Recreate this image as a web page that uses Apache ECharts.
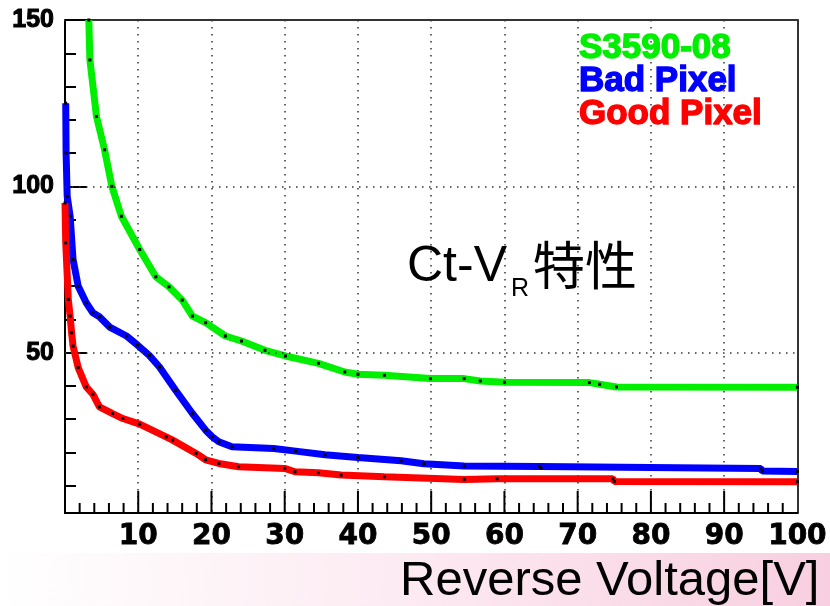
<!DOCTYPE html>
<html>
<head>
<meta charset="utf-8">
<script src="https://cdn.jsdelivr.net/npm/echarts@6/dist/echarts.min.js"></script>
<style>
html, body { margin: 0; padding: 0; background: #ffffff; }
#chart { width: 830px; height: 606px; }
</style>
</head>
<body>
<div id="chart"></div>
<script>
// Terminal capacitance vs. reverse voltage
const seriesNames = ['S3590-08', 'Bad Pixel', 'Good Pixel'];
const seriesColors = ['#00ee00', '#0000ff', '#ff0000'];

const greenVoltage = [3.25, 3.4, 4.3, 5.4, 6.4, 7.7, 10.2, 12.4, 14.2, 16.0, 17.4, 19.2, 21.9, 24.1, 27.3, 30.1, 34.6, 38.2, 40.0, 43.6, 49.9, 54.5, 56.7, 60.0, 71.6, 73.0, 75.3, 100];
const greenCap     = [150, 138, 121, 111, 100, 91, 81, 72.8, 69.8, 65.8, 61, 59, 55, 53.5, 50.7, 49, 46.8, 44.2, 43.5, 43.2, 42.2, 42.2, 41.5, 41.1, 41, 40.5, 39.7, 39.6];

const blueVoltage = [0.1, 0.15, 0.3, 0.7, 1.1, 1.8, 2.9, 3.8, 4.7, 6.1, 8.4, 9.9, 11.5, 12.9, 15.1, 17.4, 19.2, 20.1, 21.0, 22.8, 28.5, 31.5, 35.5, 40, 45.9, 49, 54.5, 64.8, 65, 95, 95.2, 100];
const blueCap     = [125, 110, 97, 91, 78, 70, 65, 62, 60.8, 57.7, 55, 52.3, 49.2, 45.7, 38.7, 31.7, 26.7, 24.7, 23.2, 21.7, 21.2, 20.4, 19.3, 18.5, 17.5, 16.6, 15.9, 15.8, 15.3, 15.2, 14.4, 14.3];

const redVoltage = [0, 0.1, 0.45, 0.7, 0.9, 1.1, 1.8, 2.9, 3.8, 4.7, 6.5, 7.9, 10.2, 13.8, 14.7, 17.9, 19.2, 21, 23.7, 30, 31.4, 34.6, 37.7, 43.6, 54.5, 59, 74.8, 75, 100];
const redCap     = [95, 83, 66, 61, 56, 52, 45.5, 39.7, 37.5, 33.7, 31.7, 30.2, 28.5, 24.7, 23.7, 19.7, 17.8, 16.7, 15.7, 15.2, 14.2, 13.9, 13.2, 12.7, 11.9, 12.1, 12.1, 11.3, 11.2];

const xTickLabels = [10, 20, 30, 40, 50, 60, 70, 80, 90, 100];
const xMajorTicks = [10, 20, 30, 40, 50, 60, 70, 80, 90];
const xMinorTicks = [2, 4, 6, 8, 12, 14, 16, 18, 22, 24, 26, 28, 32, 34, 36, 38, 42, 44, 46, 48,
                     52, 54, 56, 58, 62, 64, 66, 68, 72, 74, 76, 78, 82, 84, 86, 88, 92, 94, 96, 98];
const yTickLabels = [50, 100, 150];
const yMinorTicks = [10, 20, 30, 40, 60, 70, 80, 90, 110, 120, 130, 140];
const yGridValues = [50, 100];

const yMin = 1.8, yMax = 150;

function zip(xs, ys) { return xs.map((x, i) => [x, ys[i]]); }
const curves = [zip(greenVoltage, greenCap), zip(blueVoltage, blueCap), zip(redVoltage, redCap)];

const chart = echarts.init(document.getElementById('chart'));

function dots() { return { color: '#333', width: 1.5, type: [1.5, 5.5] }; }
function tickLine() { return { color: '#000', width: 2 }; }

const series = curves.map((data, i) => ({
  name: seriesNames[i],
  type: 'line',
  data: data,
  showSymbol: true,
  symbol: 'rect',
  symbolSize: [3, 3],
  itemStyle: { color: '#000' },
  lineStyle: { color: seriesColors[i], width: 7 },
  z: 3 + i
}));
// dotted horizontal grid lines
series[0].markLine = {
  silent: true,
  symbol: 'none',
  label: { show: false },
  lineStyle: dots(),
  data: yGridValues.map(v => ({ yAxis: v }))
};

const sansFont = '"Liberation Sans", Arial, sans-serif';

chart.setOption({
  animation: false,
  backgroundColor: '#ffffff',
  grid: { left: 65, right: 27, top: 20, bottom: 93 },
  xAxis: [{
    type: 'value', min: 0, max: 100, interval: 10,
    axisLine: { show: true, onZero: false, lineStyle: { color: '#000', width: 2 } },
    axisTick: { show: false },
    axisLabel: {
      margin: 10, color: '#000',
      formatter: v => (xTickLabels.indexOf(v) >= 0 ? String(v) : ''),
      fontFamily: '"DejaVu Sans", sans-serif', fontWeight: 'bold', fontSize: 28,
      textBorderColor: '#000', textBorderWidth: 0.8
    },
    splitLine: { show: true, lineStyle: dots() }
  }, {
    // top frame edge
    type: 'value', min: 0, max: 100, position: 'top',
    axisLine: { show: true, onZero: false, lineStyle: { color: '#333', width: 2 } },
    axisTick: { show: false }, axisLabel: { show: false }, splitLine: { show: false }
  }],
  yAxis: [{
    type: 'value', min: yMin, max: yMax,
    axisLine: { show: true, onZero: false, lineStyle: { color: '#000', width: 2 } },
    axisTick: { show: true, inside: true, length: 22, customValues: yTickLabels, lineStyle: tickLine() },
    axisLabel: {
      customValues: yTickLabels,
      margin: 11, color: '#000',
      fontFamily: sansFont, fontWeight: 'bold', fontSize: 25,
      textBorderColor: '#000', textBorderWidth: 1
    },
    splitLine: { show: false }
  }, {
    type: 'value', min: yMin, max: yMax, position: 'left', offset: 0,
    axisLine: { show: false, onZero: false },
    axisTick: { show: true, inside: true, length: 11, customValues: yMinorTicks, lineStyle: tickLine() },
    axisLabel: { show: false },
    splitLine: { show: false }
  }, {
    // right frame edge
    type: 'value', min: yMin, max: yMax, position: 'right', offset: 0,
    axisLine: { show: true, onZero: false, lineStyle: { color: '#333', width: 2 } },
    axisTick: { show: false }, axisLabel: { show: false }, splitLine: { show: false }
  }],
  series: series
});

// tick marks standing up from the voltage axis, placed through the axis scales
function voltageTicks(values, len) {
  return values.map(v => {
    const p = chart.convertToPixel({ xAxisIndex: 0, yAxisIndex: 0 }, [v, yMin]);
    return {
      type: 'line', silent: true, z: 100,
      shape: { x1: p[0], y1: p[1], x2: p[0], y2: p[1] - len },
      style: { stroke: '#000', lineWidth: 2 }
    };
  });
}

const decorations = [
  {
    type: 'rect', z: -10, silent: true,
    shape: { x: 0, y: 553, width: 830, height: 53 },
    style: {
      fill: new echarts.graphic.LinearGradient(0, 0, 1, 0.3, [
        { offset: 0, color: '#ffffff' },
        { offset: 0.45, color: '#fdecf3' },
        { offset: 1, color: '#f8cfe0' }
      ])
    }
  },
  {
    type: 'text', x: 400, y: 557, silent: true,
    style: { text: 'Reverse Voltage[V]', fill: '#000', font: '49px ' + sansFont, textVerticalAlign: 'top' }
  },
  {
    type: 'text', x: 407, y: 242, silent: true,
    style: { text: 'Ct-V', fill: '#000', font: '50px ' + sansFont, textVerticalAlign: 'top' }
  },
  {
    type: 'text', x: 511, y: 277, silent: true,
    style: { text: 'R', fill: '#000', font: '25px ' + sansFont, textVerticalAlign: 'top' }
  },
  {
    type: 'text', x: 533, y: 239, silent: true,
    style: { text: '特性', fill: '#000', font: '52px "Noto Sans CJK JP", "Noto Sans CJK SC", sans-serif', textVerticalAlign: 'top' }
  }
].concat(seriesNames.map((name, i) => ({
  type: 'text', x: 579, y: 31 + 33 * i, silent: true,
  style: {
    text: name, fill: seriesColors[i], font: 'bold 35px ' + sansFont,
    stroke: seriesColors[i], lineWidth: 1.4, textVerticalAlign: 'top'
  }
})));

chart.setOption({
  graphic: decorations.concat(voltageTicks(xMajorTicks, 22), voltageTicks(xMinorTicks, 10))
});
</script>
</body>
</html>
